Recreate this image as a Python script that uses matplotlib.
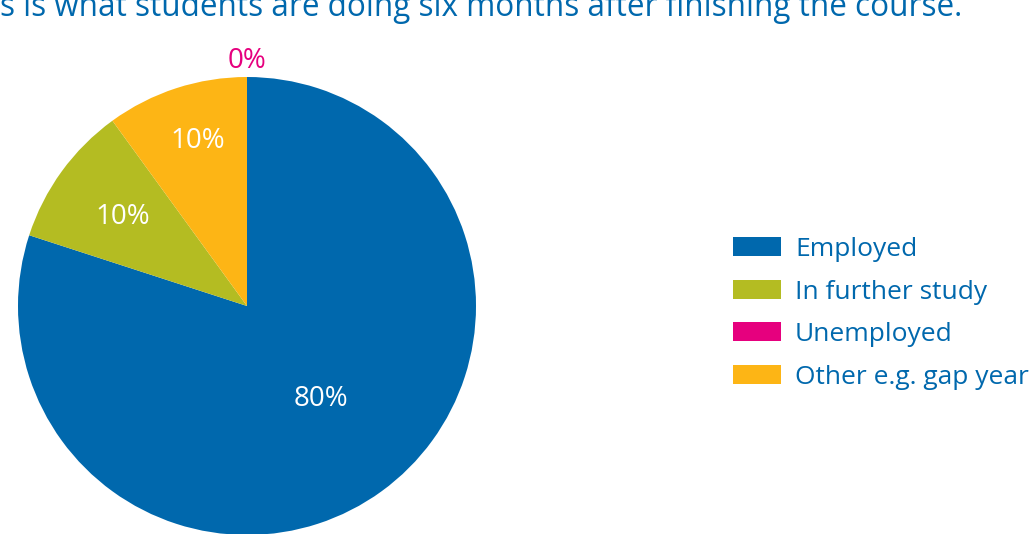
import numpy as np
import matplotlib.pyplot as plt
import matplotlib.transforms as mtransforms

plt.rcParams['font.family'] = ['Open Sans', 'DejaVu Sans']

# data
categories = ["Employed", "In further study", "Unemployed", "Other e.g. gap year"]
shares = [80, 10, 0, 10]
colours = ["#0068ad", "#b4bc22", "#e6007e", "#fdb515"]
title = "s is what students are doing six months after finishing the course."

W, H = 1032, 534
fig = plt.figure(figsize=(W / 100, H / 100), dpi=100)

# pie axes: centre (247, 306) px, radius 229 px
cx, cy, r = 247, 306, 229
ax = fig.add_axes([(cx - r) / W, (H - cy - r) / H, 2 * r / W, 2 * r / H])
wedges, _ = ax.pie(shares, colors=colours, startangle=90, counterclock=False,
                   radius=1, wedgeprops=dict(linewidth=0))
ax.set_xlim(-1, 1)
ax.set_ylim(-1, 1)
ax.set_aspect('equal')
ax.axis('off')

# percentage labels: (angle in degrees, distance from centre)
label_pos = [(-50.3, 0.505), (143.2, 0.679), (90, 1.09), (106.1, 0.77)]
# nudge down a few pixels, va='center' counts the descent
nudge = mtransforms.ScaledTranslation(0, -3 / 72, fig.dpi_scale_trans)
for val, (deg, lr), col in zip(shares, label_pos, colours):
    ang = np.deg2rad(deg)
    tc = col if val == 0 else "white"
    ax.text(lr * np.cos(ang), lr * np.sin(ang), f"{val}%", color=tc,
            fontsize=20, ha='center', va='center', clip_on=False,
            transform=ax.transData + nudge)

fig.text(0, 1 - 15.5 / H, title, color="#0068ad", fontsize=22.7,
         ha='left', va='baseline')

fig.legend(wedges, categories, loc='upper left',
           bbox_to_anchor=(733 / W, 1 - 237 / H), frameon=False,
           fontsize=19, handlelength=1.82, handleheight=0.72,
           handletextpad=0.53, labelspacing=0.665, borderpad=0,
           borderaxespad=0, labelcolor="#0068ad")

fig.savefig("out.png", dpi=100)
